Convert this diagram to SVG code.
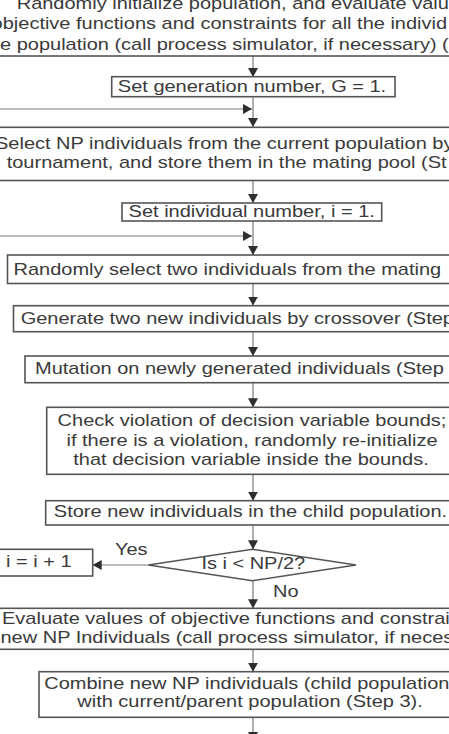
<svg xmlns="http://www.w3.org/2000/svg" width="449" height="734" viewBox="0 0 449 734">
  <style>
    .box { fill: #ffffff; stroke: #555555; stroke-width: 1.6; }
    .ln { fill: none; stroke: #7a7a7a; stroke-width: 1.2; }
    .t { font-family: "Liberation Sans", Arial, sans-serif; font-size: 20px; fill: #3a3a3a; }
    .c { text-anchor: middle; }
  </style>
  <defs>
    <marker id="ah" viewBox="0 0 10 10" refX="10" refY="5" markerWidth="9" markerHeight="10" orient="auto" markerUnits="userSpaceOnUse" preserveAspectRatio="none">
      <path d="M0,0 L10,5 L0,10 z" fill="#2e2e2e"/>
    </marker>
  </defs>
  <rect width="449" height="734" fill="#ffffff"/>

  <g id="connectors">
    <line class="ln" x1="253" y1="56" x2="253" y2="77" marker-end="url(#ah)"/>
    <line class="ln" x1="253" y1="97" x2="253" y2="127" marker-end="url(#ah)"/>
    <line class="ln" x1="-5" y1="109" x2="252" y2="109" marker-end="url(#ah)"/>
    <line class="ln" x1="253" y1="181" x2="253" y2="203" marker-end="url(#ah)"/>
    <line class="ln" x1="253" y1="221" x2="253" y2="255" marker-end="url(#ah)"/>
    <line class="ln" x1="-5" y1="236" x2="252" y2="236" marker-end="url(#ah)"/>
    <line class="ln" x1="253" y1="283.5" x2="253" y2="305.5" marker-end="url(#ah)"/>
    <line class="ln" x1="253" y1="331.7" x2="253" y2="356" marker-end="url(#ah)"/>
    <line class="ln" x1="253" y1="382.7" x2="253" y2="407.3" marker-end="url(#ah)"/>
    <line class="ln" x1="253" y1="474.3" x2="253" y2="500.7" marker-end="url(#ah)"/>
    <line class="ln" x1="253" y1="525" x2="253" y2="549.3" marker-end="url(#ah)"/>
    <line class="ln" x1="148.3" y1="565" x2="92.7" y2="565" marker-end="url(#ah)"/>
    <line class="ln" x1="253" y1="581" x2="253" y2="608.3" marker-end="url(#ah)"/>
    <line class="ln" x1="253" y1="649.3" x2="253" y2="671.7" marker-end="url(#ah)"/>
    <line class="ln" x1="253" y1="717.3" x2="253" y2="741" marker-end="url(#ah)"/>
  </g>

  <g id="init">
    <rect class="box" x="-5" y="-20" width="465" height="76"/>
    <text class="t" transform="translate(16.7 8.5) scale(1 0.85)">Randomly initialize population, and evaluate valu</text>
    <text class="t" transform="translate(-8.4 29.3) scale(1 0.85)">objective functions and constraints for all the individ</text>
    <text class="t" transform="translate(0 50) scale(1 0.85)">e population (call process simulator, if necessary) (</text>
  </g>

  <g id="set-generation">
    <rect class="box" x="111.7" y="76.7" width="283.3" height="20"/>
    <text class="t c" transform="translate(252 92.3) scale(1 0.85)">Set generation number, G = 1.</text>
  </g>

  <g id="selection">
    <rect class="box" x="-5" y="127.3" width="465" height="53.2"/>
    <text class="t" transform="translate(-5 149.3) scale(1 0.85)">Select NP individuals from the current population by</text>
    <text class="t" transform="translate(6.7 168.3) scale(1 0.85)">tournament, and store them in the mating pool (St</text>
  </g>

  <g id="set-individual">
    <rect class="box" x="122" y="203" width="259.7" height="18"/>
    <text class="t c" transform="translate(251.7 216.5) scale(1 0.8)">Set individual number, i = 1.</text>
  </g>

  <g id="pick-parents">
    <rect class="box" x="7.5" y="255" width="490" height="28.5"/>
    <text class="t" transform="translate(13.5 275) scale(1 0.85)">Randomly select two individuals from the mating</text>
  </g>

  <g id="crossover">
    <rect class="box" x="13.5" y="305.7" width="480" height="26"/>
    <text class="t" transform="translate(20.7 324) scale(1 0.85)">Generate two new individuals by crossover (Step</text>
  </g>

  <g id="mutation">
    <rect class="box" x="25" y="356" width="460" height="26.7"/>
    <text class="t" transform="translate(35 374) scale(1 0.85)">Mutation on newly generated individuals (Step</text>
  </g>

  <g id="bounds-check">
    <rect class="box" x="46.7" y="407.3" width="412" height="67"/>
    <text class="t c" transform="translate(252 425.7) scale(1 0.85)">Check violation of decision variable bounds;</text>
    <text class="t c" transform="translate(252 445.7) scale(1 0.85)">if there is a violation, randomly re-initialize</text>
    <text class="t c" transform="translate(251 465) scale(1 0.85)">that decision variable inside the bounds.</text>
  </g>

  <g id="store-child">
    <rect class="box" x="45.7" y="500.7" width="414" height="24.3"/>
    <text class="t c" transform="translate(250.5 516.7) scale(1 0.85)">Store new individuals in the child population.</text>
  </g>

  <g id="decision">
    <polygon class="box" points="252.5,549.3 356,565 252.5,580.7 148.3,565"/>
    <text class="t c" transform="translate(253.3 569.3) scale(1 0.85)">Is i &lt; NP/2?</text>
    <text class="t" transform="translate(115 555) scale(1 0.85)">Yes</text>
    <text class="t" transform="translate(273 597) scale(1 0.85)">No</text>
  </g>

  <g id="increment">
    <rect class="box" x="-5" y="549.3" width="97.7" height="26.7"/>
    <text class="t" transform="translate(6 566.7) scale(1 0.85)">i = i + 1</text>
  </g>

  <g id="evaluate-children">
    <rect class="box" x="-5" y="608.3" width="465" height="41"/>
    <text class="t" transform="translate(2 624.3) scale(1 0.85)">Evaluate values of objective functions and constrai</text>
    <text class="t" transform="translate(0.5 642.7) scale(1 0.85)">new NP Individuals (call process simulator, if neces</text>
  </g>

  <g id="combine">
    <rect class="box" x="39" y="671.7" width="426" height="45.6"/>
    <text class="t" transform="translate(44.3 689.3) scale(1 0.85)">Combine new NP individuals (child population</text>
    <text class="t c" transform="translate(250 707.3) scale(1 0.85)">with current/parent population (Step 3).</text>
  </g>
</svg>
